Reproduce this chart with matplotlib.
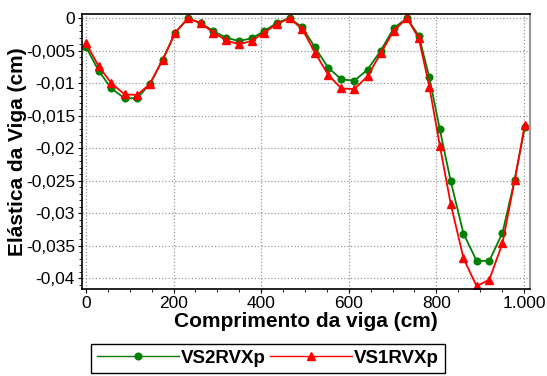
import matplotlib
matplotlib.use("Agg")
import matplotlib.pyplot as plt
from matplotlib.ticker import MultipleLocator, FuncFormatter

plt.rcParams['font.family'] = ['Liberation Sans', 'DejaVu Sans']

# posicoes ao longo da viga (cm)
x = [0, 29, 58, 88, 117, 146, 175, 204, 233, 262, 291, 320, 349, 378, 407, 436,
     465, 494, 523, 553, 583, 613, 643, 673, 703, 733, 760, 784, 808, 833, 862,
     892, 921, 951, 979, 1002]

vs2 = [-0.0044, -0.0081, -0.0108, -0.0123, -0.0123, -0.0101, -0.0064, -0.0022,
       0.0, -0.0007, -0.0020, -0.0030, -0.0035, -0.0031, -0.0020, -0.0007,
       0.0, -0.0014, -0.0045, -0.0076, -0.0094, -0.0096, -0.0079, -0.0050,
       -0.0015, 0.0, -0.0027, -0.0091, -0.0171, -0.0251, -0.0331, -0.0373,
       -0.0373, -0.0330, -0.0248, -0.0168]

vs1 = [-0.0038, -0.0074, -0.0100, -0.0117, -0.0118, -0.0101, -0.0064, -0.0022,
       0.0, -0.0008, -0.0022, -0.0034, -0.0040, -0.0035, -0.0022, -0.0009,
       0.0, -0.0017, -0.0053, -0.0087, -0.0108, -0.0109, -0.0089, -0.0054,
       -0.0019, 0.0, -0.0031, -0.0105, -0.0196, -0.0286, -0.0369, -0.0412,
       -0.0402, -0.0346, -0.0249, -0.0164]

fig = plt.figure(figsize=(5.47, 3.76), dpi=100)
ax = fig.add_axes([0.150, 0.231, 0.819, 0.732])

ax.plot(x, vs2, color='#008000', lw=1.3, marker='o', ms=4.8, label='VS2RVXp')
ax.plot(x, vs1, color='#ff0000', lw=1.3, marker='^', ms=5.8, label='VS1RVXp')

ax.set_xlim(-9, 1014)
ax.set_ylim(-0.04165, 0.00066)
ax.xaxis.set_major_locator(MultipleLocator(200))
ax.xaxis.set_minor_locator(MultipleLocator(50))
ax.yaxis.set_major_locator(MultipleLocator(0.005))
ax.yaxis.set_minor_locator(MultipleLocator(0.001))

def fmt_x(v, pos):
    s = '{:,.0f}'.format(v)
    return s.replace(',', '.')

def fmt_y(v, pos):
    if abs(v) < 1e-9:
        return '0'
    s = ('%.3f' % v).rstrip('0')
    return s.replace('.', ',')

ax.xaxis.set_major_formatter(FuncFormatter(fmt_x))
ax.yaxis.set_major_formatter(FuncFormatter(fmt_y))
ax.tick_params(axis='both', which='major', labelsize=12.5, length=3, direction='out', pad=2)
ax.tick_params(axis='both', which='minor', length=2, direction='out')

ax.grid(True, which='major', color='#999999', linestyle=':', linewidth=0.9)
for s in ['left', 'bottom', 'top']:
    ax.spines[s].set_linewidth(1.2)
ax.spines['right'].set_color('#999999')
ax.spines['right'].set_linewidth(1.6)

ax.set_xlabel('Comprimento da viga (cm)', fontsize=15, fontweight='bold', labelpad=1)
ax.set_ylabel('Elástica da Viga (cm)', fontsize=15, fontweight='bold', labelpad=-1)

leg = fig.legend(loc='center', bbox_to_anchor=(0.490, 0.047), ncol=2,
                 prop={'weight': 'bold', 'size': 13.5}, handlelength=4.4,
                 handletextpad=0.1, columnspacing=0.2, borderpad=0.3,
                 fancybox=False, edgecolor='black', framealpha=1)
leg.get_frame().set_linewidth(1.0)
for h in leg.legend_handles:
    h.set_linewidth(1.0)

fig.savefig('out.png', dpi=100)
